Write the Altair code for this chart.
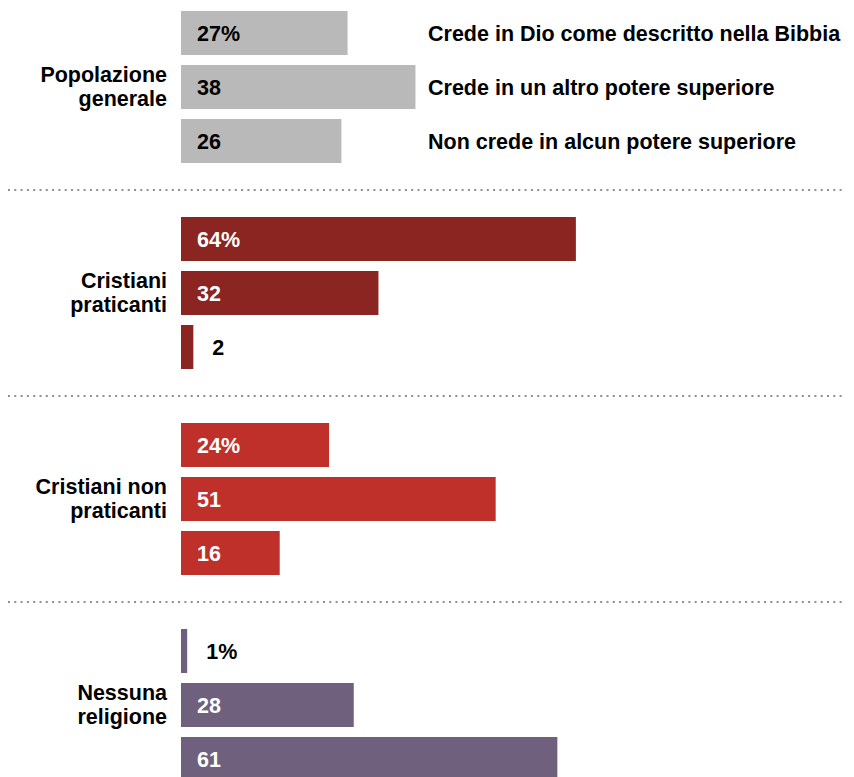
import altair as alt
import pandas as pd

groups = ["Popolazione\ngenerale", "Cristiani\npraticanti", "Cristiani non\npraticanti", "Nessuna\nreligione"]
answers = [
    "Crede in Dio come descritto nella Bibbia",
    "Crede in un altro potere superiore",
    "Non crede in alcun potere superiore",
]
values = [
    [27, 38, 26],
    [64, 32, 2],
    [24, 51, 16],
    [1, 28, 61],
]
colors = ["#b9b9b9", "#8a2521", "#c0302a", "#6f617d"]
inside_text_colors = ["#000000", "#ffffff", "#ffffff", "#ffffff"]

FONT = "Liberation Sans"
FS = 21.5
W = 617
H = 152

def make_group(gi):
    rows = []
    for ai, a in enumerate(answers):
        v = values[gi][ai]
        rows.append({
            "answer": a,
            "value": v,
            "label": f"{v}%" if ai == 0 else f"{v}",
            "inside": v >= 5,
        })
    df = pd.DataFrame(rows)
    y = alt.Y("answer:N", sort=answers, axis=None,
              scale=alt.Scale(paddingInner=10 / 54, paddingOuter=0))
    x = alt.X("value:Q", axis=None, scale=alt.Scale(domain=[0, 100]))
    base = alt.Chart(df)
    bars = base.mark_bar(color=colors[gi]).encode(x=x, y=y)
    txt_in = base.transform_filter("datum.inside").mark_text(
        align="left", baseline="middle", font=FONT, fontSize=FS, fontWeight="bold",
        color=inside_text_colors[gi], dy=1.5
    ).encode(x=alt.value(16), y=y, text="label:N")
    txt_out = base.transform_filter("!datum.inside").mark_text(
        align="left", baseline="middle", font=FONT, fontSize=FS, fontWeight="bold",
        color="#000000", dx=19, dy=1.5
    ).encode(x=x, y=y, text="label:N")
    gdf = pd.DataFrame([{"answer": answers[1], "group": groups[gi]}])
    glabel = alt.Chart(gdf).mark_text(
        align="right", baseline="middle", font=FONT, fontSize=FS, fontWeight="bold",
        color="#000000", lineBreak="\n", lineHeight=24, dy=-11
    ).encode(x=alt.value(-14), y=y, text="group:N")
    layers = [bars, txt_in, txt_out, glabel]
    if gi == 0:
        legend = base.mark_text(
            align="left", baseline="middle", font=FONT, fontSize=FS, fontWeight="bold",
            color="#000000", dy=1.5
        ).encode(x=alt.value(247), y=y, text="answer:N")
        layers.append(legend)
    if gi < len(groups) - 1:
        rule = alt.Chart(pd.DataFrame([{"r": 1}])).mark_rule(
            color="#8f8f8f", strokeWidth=2, strokeDash=[2, 4.3]
        ).encode(x=alt.value(-173), x2=alt.value(664), y=alt.value(H + 27))
        layers.append(rule)
    return alt.layer(*layers).properties(width=W, height=H)

chart = alt.vconcat(*[make_group(i) for i in range(len(groups))], spacing=26).properties(
    autosize=alt.AutoSizeParams(type="pad"),
    padding={"left": 7, "top": 11, "right": 0, "bottom": 0},
    background="white",
).configure_view(stroke=None)

chart.save("out.html", embed_options={"renderer": "svg", "actions": False})
